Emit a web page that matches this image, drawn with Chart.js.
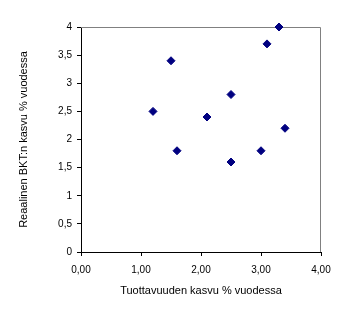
<!DOCTYPE html>
<html>
<head>
<meta charset="utf-8">
<script src="https://cdn.jsdelivr.net/npm/chart.js@4"></script>
<style>
  html, body { margin: 0; padding: 0; background: #fff; }
  #wrap { width: 351px; height: 320px; }
</style>
</head>
<body>
<div id="wrap"><canvas id="c" width="351" height="320"></canvas></div>
<script>
// productivity growth (x) vs real GDP growth (y), % per year
const productivity = [1.2, 1.5, 1.6, 2.1, 2.5, 2.5, 3.0, 3.1, 3.3, 3.4];
const gdpGrowth    = [2.5, 3.4, 1.8, 2.4, 2.8, 1.6, 1.8, 3.7, 4.0, 2.2];
const xTitle = 'Tuottavuuden kasvu % vuodessa';
const yTitle = 'Reaalinen BKT:n kasvu % vuodessa';

const points = productivity.map((x, i) => ({ x: x, y: gdpGrowth[i] }));

// gray frame on top and right like the old spreadsheet plot area
const frame = {
  id: 'frame',
  beforeDatasetsDraw(chart) {
    const a = chart.chartArea, ctx = chart.ctx;
    ctx.save();
    ctx.strokeStyle = '#808080';
    ctx.lineWidth = 1;
    ctx.beginPath();
    ctx.moveTo(a.left, a.top + 0.5);
    ctx.lineTo(a.right - 0.5, a.top + 0.5);
    ctx.lineTo(a.right - 0.5, a.bottom);
    ctx.stroke();
    ctx.restore();
  }
};

const tickFont = { family: 'Arial, "Liberation Sans", sans-serif', size: 10 };
const titleFont = { family: 'Arial, "Liberation Sans", sans-serif', size: 11 };

new Chart(document.getElementById('c'), {
  type: 'scatter',
  data: {
    datasets: [{
      data: points,
      pointStyle: 'rectRot',
      pointRadius: 4,
      backgroundColor: '#000080',
      borderColor: '#000080',
      borderWidth: 1,
      clip: false
    }]
  },
  options: {
    responsive: false,
    animation: false,
    layout: { padding: { left: 0, right: 30, top: 27, bottom: 0 } },
    plugins: { legend: { display: false }, tooltip: { enabled: false } },
    scales: {
      x: {
        type: 'linear', min: 0, max: 4,
        afterFit(s) { s.height = 68; },
        grid: { drawOnChartArea: false, color: '#000', tickLength: 4 },
        border: { color: '#000' },
        ticks: {
          stepSize: 1, color: '#000', font: tickFont, padding: 8, maxRotation: 0,
          callback: v => v.toFixed(2).replace('.', ',')
        },
        title: { display: true, text: xTitle, color: '#000', font: titleFont, padding: { top: 0, bottom: 22 } }
      },
      y: {
        type: 'linear', min: 0, max: 4,
        afterFit(s) { s.width = 81; },
        grid: { drawOnChartArea: false, color: '#000', tickLength: 4 },
        border: { color: '#000' },
        ticks: {
          stepSize: 0.5, color: '#000', font: tickFont, padding: 5,
          callback: v => String(v).replace('.', ',')
        },
        title: { display: true, text: yTitle, color: '#000', font: titleFont, padding: { top: 17, bottom: 0 } }
      }
    }
  },
  plugins: [frame]
});
</script>
</body>
</html>
